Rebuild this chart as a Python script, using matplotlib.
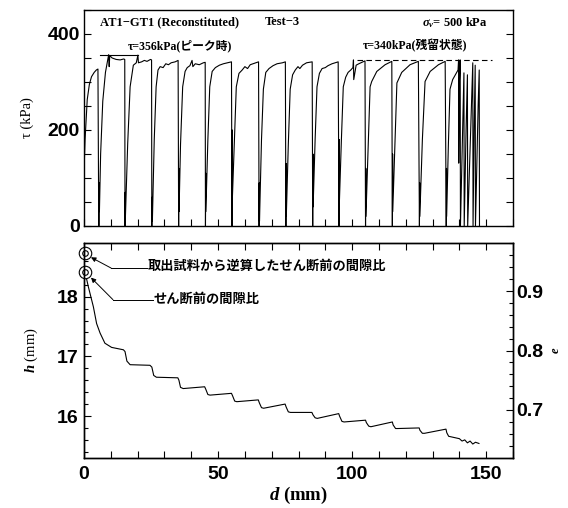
import matplotlib
matplotlib.use('Agg')
import matplotlib.pyplot as plt
from matplotlib.ticker import MultipleLocator

plt.rcParams['mathtext.fontset'] = 'custom'
plt.rcParams['mathtext.rm'] = 'Liberation Serif:bold'
plt.rcParams['mathtext.it'] = 'Liberation Serif:bold:italic'

SERIF = ['Liberation Serif', 'Noto Sans CJK JP']
JP = ['Noto Sans CJK JP', 'DejaVu Sans']

# shear stress tau (kPa) against shear displacement d (mm), one cycle per row
tau_d = [
    0.0, 0.1, 0.4, 1.2, 2.0, 2.8, 3.8, 4.6, 5.2, 5.5,
    5.6, 5.7, 5.75, 6.2, 7.0, 8.0, 8.8, 9.2, 9.4, 9.6, 10.5, 12.0, 13.5, 14.8, 15.2, 15.3,
    15.4, 15.45, 16.3, 17.2, 18.4, 19.5, 20.1, 20.3, 21.5, 22.5, 23.5, 24.8, 25.2, 25.3,
    25.4, 25.5, 26.2, 26.9, 27.6, 28.4, 29.5, 30.5, 31.5, 32.5, 34.0, 35.1, 35.3,
    35.4, 35.45, 36.0, 36.8, 37.7, 38.5, 39.5, 40.3, 40.6, 41.5, 43.0, 44.5, 45.2, 45.3,
    45.4, 45.45, 46.2, 46.9, 47.8, 49.0, 50.5, 52.0, 53.5, 55.0, 55.2,
    55.3, 55.35, 56.1, 56.8, 57.8, 59.0, 60.0, 61.0, 62.0, 64.0, 65.1, 65.3,
    65.4, 65.45, 66.2, 66.9, 67.8, 69.0, 70.5, 72.0, 74.0, 75.1, 75.3,
    75.4, 75.45, 76.2, 76.9, 77.8, 78.8, 79.8, 80.5, 81.5, 83.0, 85.1, 85.3,
    85.4, 85.45, 86.2, 86.9, 87.8, 88.8, 90.0, 91.0, 92.5, 94.8, 95.1,
    95.2, 95.25, 96.0, 96.7, 97.6, 98.5, 99.5, 100.3, 100.5, 100.6, 101.5, 102.5, 104.0, 104.8, 105.0,
    105.1, 105.15, 106.0, 106.7, 107.3, 109.2, 112.3, 114.8, 115.0,
    115.1, 115.15, 116.0, 116.7, 118.5, 121.6, 124.7, 125.1,
    125.2, 125.25, 126.2, 127.2, 129.1, 132.2, 134.7, 135.1,
    135.2, 135.25, 135.9, 136.5, 137.5, 138.8, 139.5, 139.7, 139.75, 140.0, 140.3, 140.4,
    141.2, 141.7, 141.8, 142.5, 143.0, 143.1, 144.5, 145.0, 145.1, 145.5, 145.9, 146.0,
    147.0, 147.4, 147.5,
]
tau_v = [
    0, 130, 180, 263, 295, 311, 320, 325, 327, 0,
    0, 90, 30, 150, 260, 320, 345, 357, 332, 355, 350, 347, 346, 348, 347, 0,
    70, 20, 172, 290, 335, 340, 356, 340, 342, 345, 343, 347, 346, 0,
    60, 10, 180, 290, 325, 332, 330, 338, 336, 340, 342, 345, 0,
    120, 30, 170, 290, 322, 330, 334, 345, 332, 338, 336, 340, 341, 0,
    110, 30, 180, 290, 322, 330, 335, 338, 340, 342, 0,
    200, 60, 180, 290, 318, 325, 332, 328, 336, 340, 342, 0,
    90, 10, 180, 285, 320, 328, 334, 338, 340, 342, 0,
    130, 20, 170, 285, 315, 325, 332, 328, 335, 340, 342, 0,
    150, 40, 180, 290, 318, 328, 330, 334, 338, 342, 0,
    180, 50, 180, 290, 310, 320, 325, 330, 346, 305, 335, 338, 342, 344, 0,
    120, 20, 170, 290, 301, 322, 336, 343, 0,
    150, 30, 180, 298, 320, 336, 343, 0,
    90, 20, 180, 301, 322, 336, 343, 0,
    120, 20, 170, 285, 305, 318, 325, 346, 131, 300, 346, 0,
    200, 319, 0, 200, 315, 0, 250, 340, 0, 200, 335, 0,
    250, 325, 0,
]

# specimen height h (mm) against d (mm)
h_d = [
    0.4, 1.6, 3.5, 4.7, 6.0, 7.8, 10.3, 14.7, 15.3, 16.0, 17.2, 24.6,
    25.3, 26.0, 27.0, 35.0, 35.4, 36.0, 37.0, 45.0, 45.4, 46.2, 47.0,
    55.0, 55.4, 56.2, 57.0, 65.0, 65.4, 66.2, 67.0, 75.0, 75.4, 76.2, 77.0,
    85.0, 85.4, 86.2, 87.0, 95.0, 95.3, 96.2, 97.0, 105.0, 105.3, 106.2, 107.0,
    115.0, 115.3, 116.2, 117.0, 125.0, 125.3, 126.2, 127.0, 135.0, 135.3, 136.0,
    138.0, 140.0, 141.0, 142.0, 143.0, 144.0, 145.0, 146.0, 147.3,
]
h_v = [
    18.41, 18.17, 17.83, 17.55, 17.39, 17.22, 17.15, 17.11, 17.08, 16.92, 16.86, 16.85,
    16.82, 16.68, 16.65, 16.64, 16.60, 16.48, 16.46, 16.49, 16.45, 16.36, 16.35,
    16.38, 16.34, 16.25, 16.24, 16.27, 16.22, 16.14, 16.13, 16.20, 16.15, 16.07, 16.06,
    16.06, 16.02, 15.97, 15.96, 16.04, 16.00, 15.91, 15.90, 15.93, 15.89, 15.83, 15.82,
    15.90, 15.85, 15.79, 15.79, 15.80, 15.76, 15.71, 15.71, 15.78, 15.72, 15.66,
    15.64, 15.62, 15.58, 15.60, 15.55, 15.58, 15.53, 15.56, 15.54,
]

# initial void ratio markers, drawn on the h axis
mark_d = [0.4, 0.4]
mark_h = [18.73, 18.41]

peak_tau = 357
resid_tau = 345


def style_axis(ax):
    for s in ax.spines.values():
        s.set_linewidth(1.0)
    ax.tick_params(which='both', direction='in', width=0.8, labelsize=14)
    for lab in ax.get_xticklabels() + ax.get_yticklabels():
        lab.set_fontfamily('Liberation Sans')
        lab.set_fontweight('bold')


fig = plt.figure(figsize=(5.68, 5.08), dpi=100)

# ---- top panel: tau vs d ----
ax1 = fig.add_axes([84 / 568, 1 - 226 / 508, 429 / 568, 216 / 508])
ax1.plot(tau_d, tau_v, color='k', lw=0.8)
ax1.set_xlim(0, 160)
ax1.set_ylim(0, 450)
ax1.xaxis.set_major_locator(MultipleLocator(10))
ax1.yaxis.set_major_locator(MultipleLocator(200))
ax1.yaxis.set_minor_locator(MultipleLocator(50))
ax1.tick_params(axis='x', which='both', labelbottom=False, length=5)
ax1.tick_params(axis='y', which='both', left=True, right=True, length=5, pad=3)
style_axis(ax1)
ax1.set_ylabel('τ (kPa)', fontfamily=SERIF, fontsize=10.5, labelpad=10)

ax1.plot([6, 20], [peak_tau, peak_tau], color='k', lw=0.8)
ax1.plot([101.7, 152], [resid_tau, resid_tau], color='k', lw=0.8, ls=(0, (5, 3)))
ax1.text(6, 424, 'AT1−GT1 (Reconstituted)', fontfamily=SERIF, fontsize=9,
         fontweight='bold', va='center')
ax1.text(67.5, 424, 'Test−3', fontfamily=SERIF, fontsize=9, fontweight='bold',
         va='center')
ax1.text(126, 424, r'$\sigma_v$= 500 kPa', fontfamily=SERIF, fontsize=9,
         fontweight='bold', va='center')
ax1.text(16.4, 376, 'τ=356kPa(ピーク時)', fontfamily=SERIF, fontsize=8.5,
         fontweight='bold', va='center')
ax1.text(104, 376, 'τ=340kPa(残留状態)', fontfamily=SERIF, fontsize=8.5,
         fontweight='bold', va='center')

# ---- bottom panel: h vs d, with e on the right ----
ax2 = fig.add_axes([84 / 568, 1 - 458 / 508, 429 / 568, 215 / 508])
ax2.plot(h_d, h_v, color='k', lw=0.8)
ax2.plot(mark_d, mark_h, 'o', ms=9, mfc='white', mec='k', mew=0.8, clip_on=False)
ax2.plot(mark_d, mark_h, 'o', ms=4, mfc='none', mec='k', mew=0.8, clip_on=False)
ax2.set_xlim(0, 160)
ax2.set_ylim(15.296, 18.90)
ax2.xaxis.set_major_locator(MultipleLocator(50))
ax2.xaxis.set_minor_locator(MultipleLocator(10))
ax2.yaxis.set_major_locator(MultipleLocator(1))
ax2.yaxis.set_minor_locator(MultipleLocator(0.2))
ax2.tick_params(axis='x', which='both', top=True, length=5, pad=6)
ax2.tick_params(axis='y', which='major', length=5, pad=4)
ax2.tick_params(axis='y', which='minor', length=3)
style_axis(ax2)
ax2.set_xlabel('$d$ (mm)', fontfamily=SERIF, fontsize=13.5, fontweight='bold',
               labelpad=1)
ax2.set_ylabel('$h$ (mm)', fontfamily=SERIF, fontsize=10.5, labelpad=12)

ax3 = ax2.twinx()
ax3.set_ylim(0.6193, 0.9807)
ax3.yaxis.set_major_locator(MultipleLocator(0.1))
ax3.yaxis.set_minor_locator(MultipleLocator(0.02))
ax3.tick_params(axis='y', which='major', length=5, pad=2)
ax3.tick_params(axis='y', which='minor', length=3)
style_axis(ax3)
ax3.set_ylabel('$e$', fontfamily=SERIF, fontsize=9, labelpad=5)

# annotations for the two markers
ax2.plot([23.4, 10.1], [18.48, 18.48], color='k', lw=0.7)
ax2.annotate('', xy=(2.6, 18.66), xytext=(10.1, 18.48),
             arrowprops=dict(arrowstyle='-|>', lw=0.7, color='k', mutation_scale=7,
                             shrinkA=0, shrinkB=0))
ax2.text(23.9, 18.51, '取出試料から逆算したせん断前の間隙比', fontfamily=JP,
         fontsize=9.5, fontweight='bold', va='center')
ax2.plot([25.6, 10.8], [17.95, 17.95], color='k', lw=0.7)
ax2.annotate('', xy=(2.6, 18.32), xytext=(10.8, 17.95),
             arrowprops=dict(arrowstyle='-|>', lw=0.7, color='k', mutation_scale=7,
                             shrinkA=0, shrinkB=0))
ax2.text(26.1, 17.96, 'せん断前の間隙比', fontfamily=JP, fontsize=9.5,
         fontweight='bold', va='center')

fig.savefig('out.png', dpi=100)
